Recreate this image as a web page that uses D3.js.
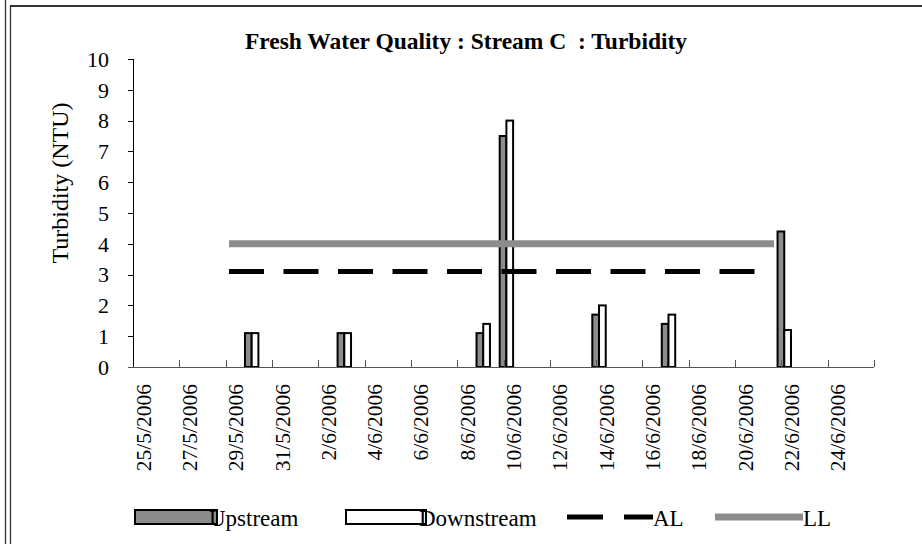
<!DOCTYPE html>
<html><head><meta charset="utf-8">
<script src="https://cdn.jsdelivr.net/npm/d3@7"></script>
<style>
html,body{margin:0;padding:0;background:#fff;}
svg{display:block;}
text{font-family:"Liberation Serif","Times New Roman",serif;fill:#000;white-space:pre;}
</style></head><body>
<svg id="chart" width="922" height="544"></svg>
<script>
// ---- data ----
const chartTitle = "Fresh Water Quality : Stream C  : Turbidity";
const yAxisTitle = "Turbidity (NTU)";
const seriesNames = ["Upstream", "Downstream", "AL", "LL"];
// sampling times
const sampleTimes = ["2006-05-30T03:00", "2006-06-03T03:00", "2006-06-09T03:00", "2006-06-10T03:00",
                     "2006-06-14T03:00", "2006-06-17T03:00", "2006-06-22T03:00"];
const upstream   = [1.1, 1.1, 1.1, 7.5, 1.7, 1.4, 4.4];
const downstream = [1.1, 1.1, 1.4, 8.0, 2.0, 1.7, 1.2];
// guideline levels and the period they cover
const limitTimes = ["2006-05-29T03:30", "2006-06-21T16:20"];
const alLevel = 3.1;
const llLevel = 4.0;
// axis labels
const dateLabels = ["25/5/2006","27/5/2006","29/5/2006","31/5/2006","2/6/2006","4/6/2006","6/6/2006","8/6/2006",
                    "10/6/2006","12/6/2006","14/6/2006","16/6/2006","18/6/2006","20/6/2006","22/6/2006","24/6/2006"];
const yTickValues = [0,1,2,3,4,5,6,7,8,9,10];
const axisStart = "25/5/2006", axisEnd = "26/6/2006";

// ---- layout ----
const W = 922, H = 544;
const plot = {left: 133, right: 874, top: 59, bottom: 367};
const barFill = "#8c8c8c", llColor = "#8c8c8c";

const svg = d3.select("#chart");
const parseLabel = d3.timeParse("%d/%m/%Y");
const parseTime = d3.timeParse("%Y-%m-%dT%H:%M");

const x = d3.scaleTime().domain([parseLabel(axisStart), parseLabel(axisEnd)]).range([plot.left, plot.right]);
const y = d3.scaleLinear().domain([0, 10]).range([plot.bottom, plot.top]);
const dayW = x(d3.timeDay.offset(parseLabel(axisStart), 1)) - x(parseLabel(axisStart));

// outer frame
const frame = svg.append("g").attr("stroke", "#333").attr("fill", "none");
frame.append("line").attr("x1", 5.5).attr("x2", 5.5).attr("y1", 0).attr("y2", H).attr("stroke-width", 1.3);
frame.append("line").attr("x1", 10.5).attr("x2", 10.5).attr("y1", 5).attr("y2", H).attr("stroke-width", 1.3);
frame.append("line").attr("x1", 10).attr("x2", W).attr("y1", 6).attr("y2", 6).attr("stroke-width", 2);

// title
svg.append("text")
  .attr("x", 466).attr("y", 49)
  .attr("text-anchor", "middle").attr("font-weight", "bold").attr("font-size", 23.5)
  .text(chartTitle);

// y axis
const yAxis = svg.append("g");
yAxis.append("line").attr("x1", plot.left + 0.5).attr("x2", plot.left + 0.5)
  .attr("y1", y(10)).attr("y2", y(0)).attr("stroke", "#000");
yAxis.selectAll("line.tick").data(yTickValues).join("line").attr("class", "tick")
  .attr("x1", plot.left - 5).attr("x2", plot.left)
  .attr("y1", d => Math.round(y(d)) + 0.5).attr("y2", d => Math.round(y(d)) + 0.5).attr("stroke", "#000");
yAxis.selectAll("text").data(yTickValues).join("text")
  .attr("x", 109).attr("y", d => y(d))
  .attr("text-anchor", "end").attr("dy", "0.35em").attr("font-size", 22)
  .text(d => d);

svg.append("text")
  .attr("transform", "translate(68,183) rotate(-90)")
  .attr("text-anchor", "middle").attr("font-size", 24)
  .text(yAxisTitle);

// bars
const rows = sampleTimes.map((t, i) => ({t: parseTime(t), up: upstream[i], down: downstream[i]}));
const bw = dayW * 0.29;
const bars = svg.append("g").attr("stroke", "#000").attr("stroke-width", 2);
bars.selectAll("rect.up").data(rows).join("rect").attr("class", "up")
  .attr("x", d => x(d.t) - bw).attr("width", bw)
  .attr("y", d => y(d.up)).attr("height", d => y(0) - y(d.up)).attr("fill", barFill);
bars.selectAll("rect.down").data(rows).join("rect").attr("class", "down")
  .attr("x", d => x(d.t)).attr("width", bw)
  .attr("y", d => y(d.down)).attr("height", d => y(0) - y(d.down)).attr("fill", "#fff");

// x axis
const xAxis = svg.append("g");
xAxis.append("line").attr("x1", plot.left - 5).attr("x2", plot.right)
  .attr("y1", y(0) + 0.5).attr("y2", y(0) + 0.5).attr("stroke", "#555");
const tickDates = d3.timeDay.range(parseLabel(axisStart), d3.timeDay.offset(parseLabel(axisEnd), 1), 2).slice(1);
xAxis.selectAll("line.tick").data(tickDates).join("line").attr("class", "tick")
  .attr("x1", d => Math.round(x(d)) + 0.5).attr("x2", d => Math.round(x(d)) + 0.5)
  .attr("y1", y(0) - 7).attr("y2", y(0)).attr("stroke", "#555");
xAxis.selectAll("text").data(dateLabels).join("text")
  .attr("transform", d => `translate(${x(parseLabel(d)) + dayW / 2 + 6},384) rotate(-90)`)
  .attr("text-anchor", "end").attr("font-size", 21.5)
  .text(d => d);

// guideline levels
const lt = limitTimes.map(parseTime);
svg.append("line").attr("x1", x(lt[0])).attr("x2", x(lt[1]))
  .attr("y1", y(llLevel)).attr("y2", y(llLevel))
  .attr("stroke", llColor).attr("stroke-width", 7);
svg.append("line").attr("x1", x(lt[0])).attr("x2", x(lt[1]))
  .attr("y1", y(alLevel)).attr("y2", y(alLevel))
  .attr("stroke", "#000").attr("stroke-width", 5).attr("stroke-dasharray", "35 19.5");

// legend
const lg = svg.append("g");
const legendY = 517;
lg.append("rect").attr("x", 135).attr("y", 510).attr("width", 82).attr("height", 14)
  .attr("fill", barFill).attr("stroke", "#000").attr("stroke-width", 2);
lg.append("rect").attr("x", 346).attr("y", 510).attr("width", 80).attr("height", 14)
  .attr("fill", "#fff").attr("stroke", "#000").attr("stroke-width", 2);
lg.append("line").attr("x1", 567).attr("x2", 653).attr("y1", legendY).attr("y2", legendY)
  .attr("stroke", "#000").attr("stroke-width", 5).attr("stroke-dasharray", "36 21");
lg.append("line").attr("x1", 715).attr("x2", 803).attr("y1", legendY).attr("y2", legendY)
  .attr("stroke", llColor).attr("stroke-width", 7);
const legendTextX = [209, 419, 653, 803];
lg.selectAll("text").data(seriesNames).join("text")
  .attr("x", (d, i) => legendTextX[i]).attr("y", 526)
  .attr("font-size", 23)
  .text(d => d);
</script>
</body></html>
